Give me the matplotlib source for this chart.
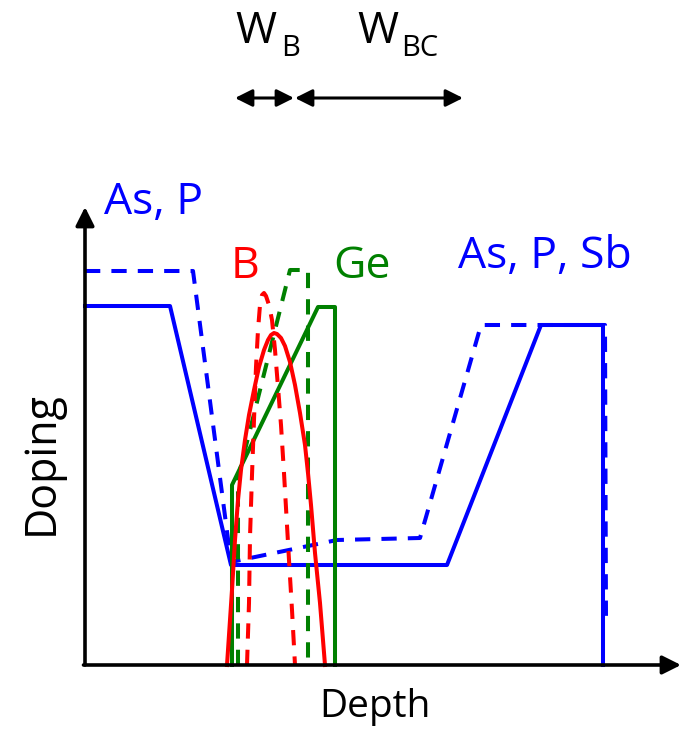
import matplotlib.pyplot as plt

plt.rcParams['font.family'] = ['Open Sans', 'DejaVu Sans']
plt.rcParams['lines.scale_dashes'] = False

# As, P (emitter) + As, P, Sb (collector) profiles
as_solid_x = [0, 85, 146, 362, 456, 518, 518]
as_solid_y = [359, 359, 100, 100, 340, 340, 0]
as_dash_x = [0, 108, 146, 252, 335, 396, 520, 521]
as_dash_y = [394, 394, 103, 125, 127, 340, 340, 43]

# Ge profiles
ge_solid_x = [147, 147, 233, 250, 250]
ge_solid_y = [0, 180, 358, 358, 0]
ge_dash_x = [153, 153, 205, 223, 223]
ge_dash_y = [0, 187, 395, 395, 0]

# B profiles
b_solid_x = [142, 145, 147, 150, 153, 156, 160, 164, 169, 174, 179, 183, 186, 189,
             192, 196, 200, 205, 210, 215, 220, 223, 226, 230, 235, 240]
b_solid_y = [0, 45, 75, 125, 165, 195, 225, 250, 275, 298, 315, 325, 330, 332,
             331, 327, 319, 303, 280, 252, 220, 192, 160, 112, 62, 0]
b_dash_x = [162, 164, 165, 167, 169, 171, 173, 175, 177, 179, 181, 184, 187, 190,
            193, 196, 199, 204, 207, 210]
b_dash_y = [0, 62, 128, 190, 245, 298, 335, 360, 370, 372, 369, 360, 345, 315,
            278, 240, 192, 105, 55, 0]

blue = '#0000FF'
red = '#FF0000'
green = '#008000'
lw = 2.9
dash = (0, (11, 8))

fig = plt.figure(figsize=(6.82, 7.29), dpi=100)
ax = fig.add_axes([0, 0, 1, 1])
ax.set_xlim(-85, 597)
ax.set_ylim(-64, 665)
ax.axis('off')

ax.plot(as_dash_x, as_dash_y, color=blue, lw=lw, linestyle=dash)
ax.plot(as_solid_x, as_solid_y, color=blue, lw=lw)
ax.plot(ge_dash_x, ge_dash_y, color=green, lw=lw, linestyle=dash)
ax.plot(ge_solid_x, ge_solid_y, color=green, lw=lw)
ax.plot(b_dash_x, b_dash_y, color=red, lw=lw, linestyle=dash)
ax.plot(b_solid_x, b_solid_y, color=red, lw=lw)

# axes with arrow heads
ax.annotate('', xy=(0, 458), xytext=(0, 0),
            arrowprops=dict(arrowstyle='-|>', lw=2.6, color='black',
                            mutation_scale=28, shrinkA=0, shrinkB=0))
ax.annotate('', xy=(596, 0), xytext=(-1.5, 0),
            arrowprops=dict(arrowstyle='-|>', lw=2.6, color='black',
                            mutation_scale=28, shrinkA=0, shrinkB=0))

# W_B and W_BC arrows
ax.annotate('', xy=(209, 567), xytext=(150, 567),
            arrowprops=dict(arrowstyle='<|-|>', lw=2.2, color='black',
                            mutation_scale=26, shrinkA=0, shrinkB=0))
ax.annotate('', xy=(378, 567), xytext=(210, 567),
            arrowprops=dict(arrowstyle='<|-|>', lw=2.2, color='black',
                            mutation_scale=26, shrinkA=0, shrinkB=0))

ax.text(150, 622, 'W', fontsize=32, ha='left', va='baseline')
ax.text(196, 609, 'B', fontsize=21, ha='left', va='baseline')
ax.text(272, 622, 'W', fontsize=32, ha='left', va='baseline')
ax.text(316, 609, 'BC', fontsize=21, ha='left', va='baseline')

ax.text(69, 451, 'As, P', color=blue, fontsize=32, ha='center', va='baseline')
ax.text(460, 397, 'As, P, Sb', color=blue, fontsize=32, ha='center', va='baseline')
ax.text(160, 387, 'B', color=red, fontsize=32, ha='center', va='baseline')
ax.text(277, 387, 'Ge', color=green, fontsize=32, ha='center', va='baseline')

ax.text(-32, 202, 'Doping', fontsize=31, rotation=90, rotation_mode='anchor',
        ha='center', va='baseline')
ax.text(290, -52, 'Depth', fontsize=28, ha='center', va='baseline')

fig.savefig('out.png', dpi=100)
